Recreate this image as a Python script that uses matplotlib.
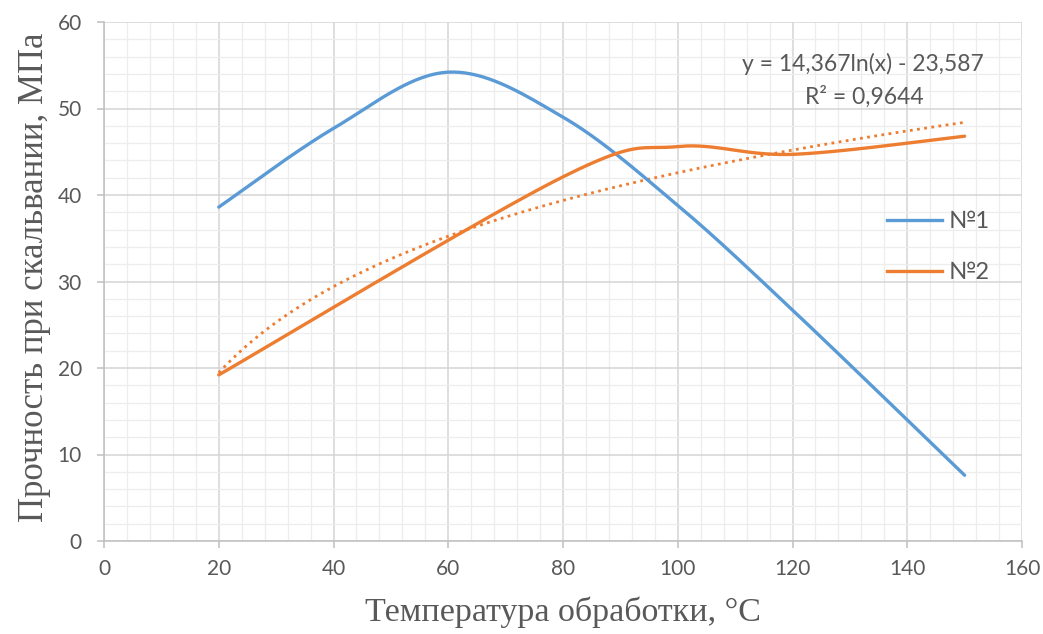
import numpy as np
import matplotlib
matplotlib.use("Agg")
import matplotlib.pyplot as plt
from matplotlib.ticker import MultipleLocator
from matplotlib.lines import Line2D

# data
temp_1 = [20, 40, 60, 80, 100, 120, 150]
strength_1 = [38.6, 47.7, 54.2, 49.0, 38.8, 26.7, 7.6]

temp_2 = [20, 80, 100, 120, 150]
strength_2 = [19.2, 42.1, 45.6, 44.7, 46.8]

# logarithmic trendline of series 2 (as shown on the chart)
trend_a = 14.367
trend_b = -23.587
trend_r2 = 0.9644

series_labels = ["№1", "№2"]
x_label = "Температура обработки, °С"
y_label = "Прочность при скальвании, МПа"

BLUE = "#5B9BD5"
ORANGE = "#ED7D31"
TXT = "#595959"
W, H = 1043, 634


def excel_smooth(xs, ys, n=60):
    # cubic bezier through the points, control points like Excel "smoothed line"
    p = np.column_stack([xs, ys]).astype(float)
    out = []
    for i in range(len(p) - 1):
        p0 = p[i - 1] if i > 0 else p[i]
        p1, p2 = p[i], p[i + 1]
        p3 = p[i + 2] if i + 2 < len(p) else p[i + 1]
        c1 = p1 + (p2 - p0) / 6
        c2 = p2 - (p3 - p1) / 6
        t = np.linspace(0, 1, n)[:, None]
        seg = ((1 - t) ** 3) * p1 + 3 * ((1 - t) ** 2) * t * c1 + 3 * (1 - t) * t ** 2 * c2 + t ** 3 * p2
        out.append(seg if i == 0 else seg[1:])
    s = np.vstack(out)
    return s[:, 0], s[:, 1]


plt.rcParams["font.family"] = ["Lato", "DejaVu Sans"]

fig = plt.figure(figsize=(W / 100, H / 100), dpi=100)
ax = fig.add_axes([104 / W, 1 - 541 / H, 918 / W, 519 / H])

ax.set_xlim(0, 160)
ax.set_ylim(0, 60)
ax.xaxis.set_major_locator(MultipleLocator(20))
ax.xaxis.set_minor_locator(MultipleLocator(4))
ax.yaxis.set_major_locator(MultipleLocator(10))
ax.yaxis.set_minor_locator(MultipleLocator(2))
ax.grid(which="minor", color="#ededed", linewidth=0.9, zorder=0)
ax.grid(which="major", color="#d4d4d4", linewidth=1.1, zorder=0)
ax.set_axisbelow(True)

for side in ["top", "right"]:
    ax.spines[side].set_visible(False)
for side in ["left", "bottom"]:
    ax.spines[side].set_color("#bfbfbf")
    ax.spines[side].set_linewidth(1.1)

ax.tick_params(which="major", length=5, color="#bfbfbf", width=1.1, labelsize=15, labelcolor=TXT)
ax.tick_params(axis="x", which="major", pad=8)
ax.tick_params(axis="y", which="major", pad=11)
ax.tick_params(which="minor", length=0)

x1, y1 = excel_smooth(temp_1, strength_1)
x2, y2 = excel_smooth(temp_2, strength_2)
ax.plot(x1, y1, color=BLUE, linewidth=2.4, solid_capstyle="round", zorder=3)
ax.plot(x2, y2, color=ORANGE, linewidth=2.4, solid_capstyle="round", zorder=3)

xt = np.linspace(min(temp_2), max(temp_2), 300)
ax.plot(xt, trend_a * np.log(xt) + trend_b, color=ORANGE, linewidth=2.0,
        linestyle=(0, (1, 1.6)), zorder=2)

eq_text = f"y = {trend_a:.3f}ln(x) - {abs(trend_b):.3f}".replace(".", ",")
r2_text = f"R² = {trend_r2:.4f}".replace(".", ",")
fig.text(863 / W, 1 - 64 / H, eq_text, fontsize=16.5, color=TXT, ha="center", va="center")
fig.text(864 / W, 1 - 97 / H, r2_text, fontsize=16.5, color=TXT, ha="center", va="center")

handles = [Line2D([], [], color=BLUE, linewidth=2.4), Line2D([], [], color=ORANGE, linewidth=2.4)]
ax.legend(handles, series_labels, loc="center left", bbox_to_anchor=((875 - 104) / 918, (541 - 247) / 519),
          frameon=False, fontsize=17, labelcolor=TXT, borderpad=0, handlelength=2.35,
          handletextpad=0.25, labelspacing=1.28)

fig.text(563 / W, 1 - 612 / H, x_label, family="Liberation Serif", fontsize=24.5,
         color=TXT, ha="center", va="center")
fig.text(35 / W, 1 - 277 / H, y_label, family="Liberation Serif", fontsize=25,
         color=TXT, ha="center", va="center", rotation=90)

fig.savefig("out.png", dpi=100)
